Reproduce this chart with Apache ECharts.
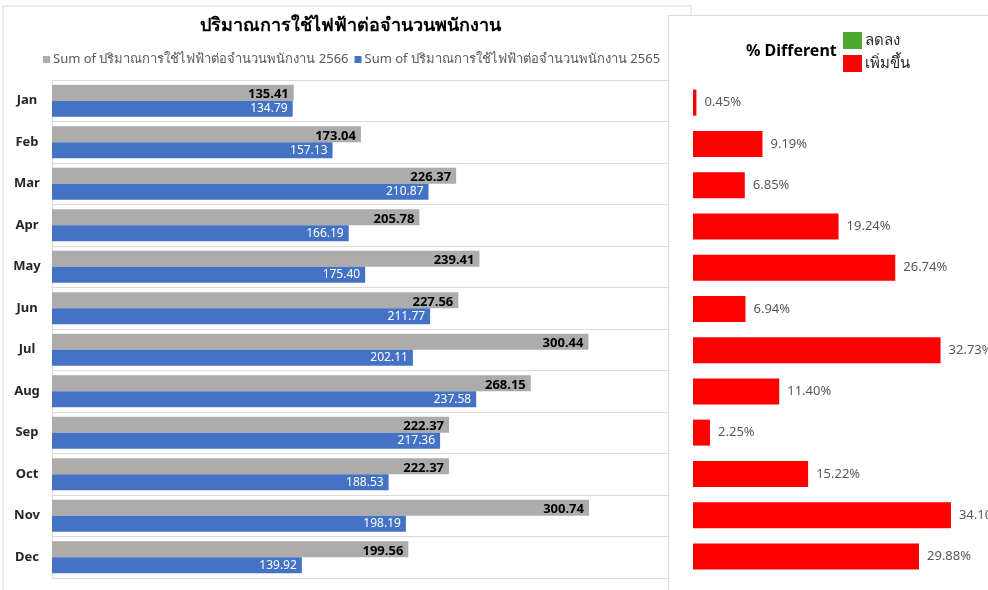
<!DOCTYPE html>
<html>
<head>
<meta charset="utf-8">
<script src="https://cdn.jsdelivr.net/npm/echarts@6/dist/echarts.min.js"></script>
<style>
  html, body { margin: 0; padding: 0; background: #fff; }
  #chart { width: 988px; height: 590px; }
</style>
</head>
<body>
<div id="chart"></div>
<script>
var months = ['Jan', 'Feb', 'Mar', 'Apr', 'May', 'Jun', 'Jul', 'Aug', 'Sep', 'Oct', 'Nov', 'Dec']
var use2566 = [135.41, 173.04, 226.37, 205.78, 239.41, 227.56, 300.44, 268.15, 222.37, 222.37, 300.74, 199.56]
var use2565 = [134.79, 157.13, 210.87, 166.19, 175.40, 211.77, 202.11, 237.58, 217.36, 188.53, 198.19, 139.92]
var pctDiff = [0.45, 9.19, 6.85, 19.24, 26.74, 6.94, 32.73, 11.40, 2.25, 15.22, 34.10, 29.88]

var font = '"Noto Sans", "DejaVu Sans", sans-serif'
var chart = echarts.init(document.getElementById('chart'))

var option = {
  animation: false,
  textStyle: { fontFamily: font },
  title: [
    {
      text: 'ปริมาณการใช้ไฟฟ้าต่อจำนวนพนักงาน',
      left: 345,
      top: 12,
      textAlign: 'center',
      textStyle: { fontSize: 18, fontWeight: 'bold', color: '#000' }
    },
    {
      text: '% Different',
      left: 741,
      top: 38,
      textStyle: { fontSize: 16, fontWeight: 'bold', color: '#000' }
    }
  ],
  legend: [
    {
      data: ['Sum of ปริมาณการใช้ไฟฟ้าต่อจำนวนพนักงาน 2566', 'Sum of ปริมาณการใช้ไฟฟ้าต่อจำนวนพนักงาน 2565'],
      left: 38,
      top: 48,
      icon: 'rect',
      itemWidth: 7,
      itemHeight: 7,
      itemGap: 6,
      textStyle: { fontSize: 13, color: '#595959', padding: [0, 0, 0, -2] }
    },
    {
      data: ['ลดลง', 'เพิ่มขึ้น'],
      left: 838,
      top: 27,
      orient: 'vertical',
      icon: 'rect',
      itemWidth: 19,
      itemHeight: 17,
      itemGap: 6,
      textStyle: { fontSize: 15, color: '#262626', padding: [0, 0, 0, -2] }
    }
  ],
  graphic: [
    {
      type: 'rect', z: -10, silent: true,
      shape: { x: 3, y: 6, width: 688, height: 620 },
      style: { fill: '#fff', stroke: '#d9d9d9', lineWidth: 1 }
    },
    {
      type: 'rect', z: -5, silent: true,
      shape: { x: 668.5, y: 15.5, width: 340, height: 620 },
      style: { fill: '#fff', stroke: '#d9d9d9', lineWidth: 1 }
    }
  ],
  grid: [
    { left: 52, top: 80, width: 616, height: 498 },
    { left: 693, top: 82, right: 0, height: 495 }
  ],
  xAxis: [
    { gridIndex: 0, type: 'value', min: 0, max: 345, show: false },
    { gridIndex: 1, type: 'value', min: 0, max: 39, show: false }
  ],
  yAxis: [
    {
      gridIndex: 0,
      type: 'category',
      inverse: true,
      data: months,
      axisLine: { lineStyle: { color: '#d9d9d9' } },
      axisTick: { show: false },
      splitLine: { show: true, lineStyle: { color: '#d9d9d9', width: 1 } },
      axisLabel: { align: 'center', margin: 25, fontSize: 13, fontWeight: 'bold', color: '#262626' }
    },
    {
      gridIndex: 1,
      type: 'category',
      inverse: true,
      data: months,
      show: false
    }
  ],
  series: [
    {
      name: 'Sum of ปริมาณการใช้ไฟฟ้าต่อจำนวนพนักงาน 2566',
      type: 'bar',
      xAxisIndex: 0,
      yAxisIndex: 0,
      data: use2566,
      barGap: '0%',
      barCategoryGap: '23%',
      itemStyle: { color: '#AEABAB' },
      label: {
        show: true,
        position: 'insideRight',
        offset: [0, 2],
        formatter: function (p) { return p.value.toFixed(2) },
        fontSize: 13,
        fontWeight: 'bold',
        color: '#000'
      }
    },
    {
      name: 'Sum of ปริมาณการใช้ไฟฟ้าต่อจำนวนพนักงาน 2565',
      type: 'bar',
      xAxisIndex: 0,
      yAxisIndex: 0,
      data: use2565,
      itemStyle: { color: '#4472C4' },
      label: {
        show: true,
        position: 'insideRight',
        formatter: function (p) { return p.value.toFixed(2) },
        fontSize: 12,
        color: '#fff'
      }
    },
    {
      name: 'ลดลง',
      type: 'bar',
      xAxisIndex: 1,
      yAxisIndex: 1,
      data: [],
      itemStyle: { color: '#4EA72E' }
    },
    {
      name: 'เพิ่มขึ้น',
      type: 'bar',
      xAxisIndex: 1,
      yAxisIndex: 1,
      data: pctDiff,
      barWidth: 26,
      barGap: '-100%',
      itemStyle: { color: '#FF0000' },
      label: {
        show: true,
        position: 'right',
        distance: 8,
        formatter: function (p) { return p.value.toFixed(2) + '%' },
        fontSize: 13,
        color: '#595959'
      }
    }
  ]
}

chart.setOption(option)
</script>
</body>
</html>
